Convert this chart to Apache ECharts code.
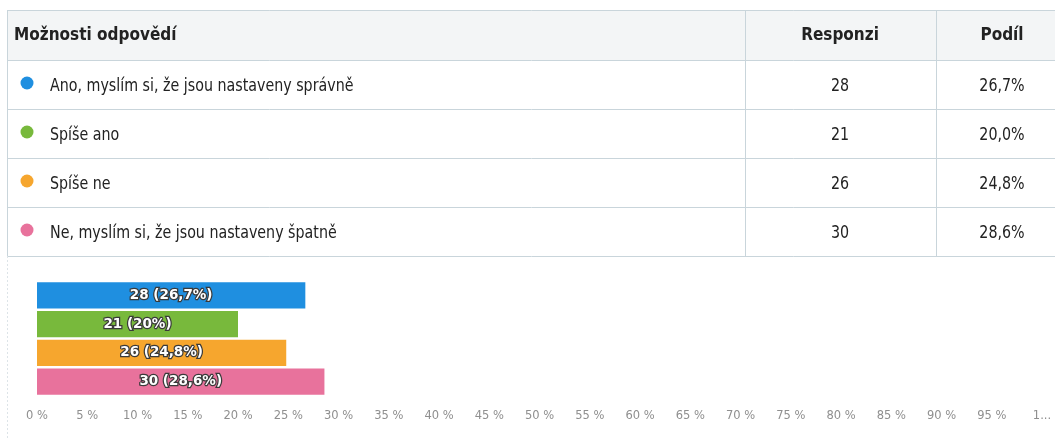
<!DOCTYPE html>
<html>
<head>
<meta charset="utf-8">
<script src="https://cdn.jsdelivr.net/npm/echarts@6/dist/echarts.min.js"></script>
<style>
html,body{margin:0;padding:0;background:#fff;}
#main{width:1055px;height:439px;}
</style>
</head>
<body>
<div id="main"></div>
<script>
// ---- data ----
var categories = ['Ano, myslím si, že jsou nastaveny správně', 'Spíše ano', 'Spíše ne', 'Ne, myslím si, že jsou nastaveny špatně'];
var responses = [28, 21, 26, 30];
var shares = [26.7, 20.0, 24.8, 28.6];
var colors = ['#1f8fe0', '#78b93c', '#f6a62e', '#e8729c'];
var headers = ['Možnosti odpovědí', 'Responzi', 'Podíl'];
var tickLabels = ['0 %', '5 %', '10 %', '15 %', '20 %', '25 %', '30 %', '35 %', '40 %', '45 %', '50 %', '55 %', '60 %', '65 %', '70 %', '75 %', '80 %', '85 %', '90 %', '95 %', '1...'];

// ---- layout ----
var tableLeft = 7, tableTop = 10, headerH = 50, rowH = 49, tableRight = 1060;
var col1 = 745, col2 = 936;
var respCenter = 840, shareCenter = 1002;
var lineColor = '#c9d5db';
var narrow = '"Liberation Sans Narrow", "DejaVu Sans Condensed", "Open Sans", sans-serif';
var rowScale = 0.88;

function fmtTable(p) { return p.toFixed(1).replace('.', ',') + '%'; }
function fmtBar(p) { return String(p).replace('.', ','); }

var graphics = [];
var tableBottom = tableTop + headerH + rowH * categories.length;
graphics.push({type:'rect', shape:{x:tableLeft, y:tableTop, width:tableRight - tableLeft, height:headerH},
  style:{fill:'#f3f5f6', stroke:null}, z:0});
var ys = [tableTop, tableTop + headerH];
for (var i = 1; i <= categories.length; i++) ys.push(tableTop + headerH + rowH * i);
ys.forEach(function (y) {
  graphics.push({type:'line', shape:{x1:tableLeft, y1:y + 0.5, x2:tableRight, y2:y + 0.5}, style:{stroke:lineColor, lineWidth:1}, z:1});
});
[tableLeft, col1, col2].forEach(function (x) {
  graphics.push({type:'line', shape:{x1:x + 0.5, y1:tableTop, x2:x + 0.5, y2:tableBottom}, style:{stroke:lineColor, lineWidth:1}, z:1});
});
graphics.push({type:'line', shape:{x1:tableLeft + 0.5, y1:tableBottom, x2:tableLeft + 0.5, y2:439}, style:{stroke:'#dde4e8', lineWidth:1, lineDash:[2,2]}, z:1});
var headY = tableTop + headerH / 2 + 1;
var headFont = 'bold 17px ' + narrow;
graphics.push({type:'text', x:14, y:headY, style:{text:headers[0], fill:'#222', font:headFont, textVerticalAlign:'middle', textAlign:'left'}, z:2});
graphics.push({type:'text', x:respCenter, y:headY, style:{text:headers[1], fill:'#222', font:headFont, textVerticalAlign:'middle', textAlign:'center'}, z:2});
graphics.push({type:'text', x:shareCenter, y:headY, style:{text:headers[2], fill:'#222', font:headFont, textVerticalAlign:'middle', textAlign:'center'}, z:2});
var rowFont = '18px ' + narrow;
categories.forEach(function (c, i) {
  var mid = tableTop + headerH + rowH * i + rowH / 2;
  var ty = mid + 2;
  graphics.push({type:'circle', shape:{cx:27, cy:mid - 1.5, r:6.5}, style:{fill:colors[i]}, z:2});
  graphics.push({type:'text', x:50, y:ty, scaleX:rowScale, style:{text:c, fill:'#222', font:rowFont, textVerticalAlign:'middle', textAlign:'left'}, z:2});
  graphics.push({type:'text', x:respCenter, y:ty, scaleX:rowScale, style:{text:String(responses[i]), fill:'#222', font:rowFont, textVerticalAlign:'middle', textAlign:'center'}, z:2});
  graphics.push({type:'text', x:shareCenter, y:ty, scaleX:rowScale, style:{text:fmtTable(shares[i]), fill:'#222', font:rowFont, textVerticalAlign:'middle', textAlign:'center'}, z:2});
});

var chart = echarts.init(document.getElementById('main'), null, {renderer:'canvas'});
chart.setOption({
  animation: false,
  backgroundColor: '#ffffff',
  graphic: graphics,
  grid: {left: 37, right: 13, top: 281, height: 115, containLabel: false},
  xAxis: {
    type: 'value', min: 0, max: 100, interval: 5,
    axisLine: {show: false}, axisTick: {show: false}, splitLine: {show: false},
    axisLabel: {
      color: '#8f8f8f', fontSize: 11.5, fontFamily: '"DejaVu Sans", sans-serif', margin: 14,
      formatter: function (v) { return tickLabels[Math.round(v / 5)]; }
    }
  },
  yAxis: {
    type: 'category', data: categories, inverse: true, show: false
  },
  series: [{
    type: 'bar',
    barCategoryGap: '8%',
    data: shares.map(function (p, i) { return {value: p, itemStyle: {color: colors[i]}}; }),
    label: {
      show: true, position: 'inside', color: '#fff', fontWeight: 'bold', fontSize: 13.5,
      fontFamily: '"DejaVu Sans", sans-serif', textBorderColor: '#3a3a3a', textBorderWidth: 2.5,
      formatter: function (p) { return responses[p.dataIndex] + ' (' + fmtBar(shares[p.dataIndex]) + '%)'; }
    }
  }]
});
</script>
</body>
</html>
